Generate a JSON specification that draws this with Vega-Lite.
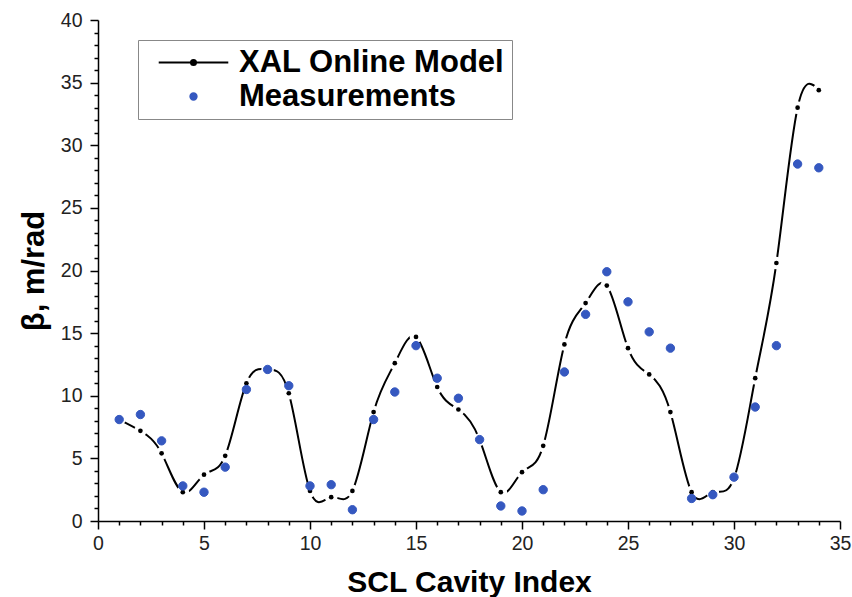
{
  "$schema": "https://vega.github.io/schema/vega-lite/v6.json",
  "width": 742,
  "height": 501,
  "autosize": {"type": "none"},
  "padding": {"left": 98, "top": 20, "right": 12, "bottom": 76},
  "background": "white",
  "config": {
    "view": {"stroke": null},
    "font": "Liberation Sans"
  },
  "data": {
    "values": [
      {"x": 1, "model": 8.1, "meas": 8.1},
      {"x": 2, "model": 7.2, "meas": 8.5},
      {"x": 3, "model": 5.4, "meas": 6.4},
      {"x": 4, "model": 2.3, "meas": 2.8},
      {"x": 5, "model": 3.7, "meas": 2.3},
      {"x": 6, "model": 5.2, "meas": 4.3},
      {"x": 7, "model": 11.0, "meas": 10.5},
      {"x": 8, "model": 12.1, "meas": 12.1},
      {"x": 9, "model": 10.2, "meas": 10.8},
      {"x": 10, "model": 2.4, "meas": 2.8},
      {"x": 11, "model": 1.9, "meas": 2.9},
      {"x": 12, "model": 2.4, "meas": 0.9},
      {"x": 13, "model": 8.7, "meas": 8.1},
      {"x": 14, "model": 12.6, "meas": 10.3},
      {"x": 15, "model": 14.7, "meas": 14.0},
      {"x": 16, "model": 10.7, "meas": 11.4},
      {"x": 17, "model": 8.9, "meas": 9.8},
      {"x": 18, "model": 6.5, "meas": 6.5},
      {"x": 19, "model": 2.3, "meas": 1.2},
      {"x": 20, "model": 3.9, "meas": 0.8},
      {"x": 21, "model": 6.0, "meas": 2.5},
      {"x": 22, "model": 14.1, "meas": 11.9},
      {"x": 23, "model": 17.4, "meas": 16.5},
      {"x": 24, "model": 18.8, "meas": 19.9},
      {"x": 25, "model": 13.8, "meas": 17.5},
      {"x": 26, "model": 11.7, "meas": 15.1},
      {"x": 27, "model": 8.7, "meas": 13.8},
      {"x": 28, "model": 2.3, "meas": 1.8},
      {"x": 29, "model": 2.3, "meas": 2.1},
      {"x": 30, "model": 3.4, "meas": 3.5},
      {"x": 31, "model": 11.4, "meas": 9.1},
      {"x": 32, "model": 20.6, "meas": 14.0},
      {"x": 33, "model": 33.0, "meas": 28.5},
      {"x": 34, "model": 34.4, "meas": 28.2}
    ]
  },
  "resolve": {"axis": {"x": "independent", "y": "independent"}},
  "layer": [
    {
      "mark": {"type": "line", "interpolate": "natural", "color": "black", "strokeWidth": 2},
      "encoding": {
        "x": {
          "field": "x", "type": "quantitative",
          "scale": {"domain": [0, 35], "nice": false, "zero": false},
          "axis": {
            "orient": "bottom",
            "values": [0, 5, 10, 15, 20, 25, 30, 35],
            "title": "SCL Cavity Index",
            "grid": false,
            "tickSize": 8, "tickWidth": 1.5, "tickColor": "black",
            "domainColor": "black", "domainWidth": 1.5,
            "labelFont": "Liberation Sans", "labelFontSize": 19.5, "labelColor": "#222",
            "labelPadding": 5, "labelFlush": false,
            "titleFont": "Liberation Sans", "titleFontSize": 30, "titleFontWeight": "bold",
            "titleColor": "black", "titlePadding": 15
          }
        },
        "y": {
          "field": "model", "type": "quantitative",
          "scale": {"domain": [0, 40], "nice": false, "zero": false},
          "axis": {
            "orient": "left",
            "values": [0, 5, 10, 15, 20, 25, 30, 35, 40],
            "title": "β, m/rad",
            "grid": false,
            "tickSize": 8, "tickWidth": 1.5, "tickColor": "black",
            "domainColor": "black", "domainWidth": 1.5,
            "labelFont": "Liberation Sans", "labelFontSize": 19.5, "labelColor": "#222",
            "labelPadding": 8, "labelFlush": false,
            "titleFont": "Liberation Sans", "titleFontSize": 31, "titleFontWeight": "bold",
            "titleColor": "black", "titlePadding": 10
          }
        }
      }
    },
    {
      "mark": {"type": "point", "filled": true, "color": "white", "size": 160, "opacity": 1},
      "encoding": {
        "x": {
          "field": "x", "type": "quantitative",
          "scale": {"domain": [0, 35], "nice": false, "zero": false},
          "axis": {
            "orient": "bottom",
            "values": [1, 2, 3, 4, 6, 7, 8, 9, 11, 12, 13, 14, 16, 17, 18, 19, 21, 22, 23, 24, 26, 27, 28, 29, 31, 32, 33, 34],
            "labels": false, "domain": false, "grid": false, "title": null,
            "tickSize": 4, "tickWidth": 1.5, "tickColor": "black"
          }
        },
        "y": {
          "field": "model", "type": "quantitative",
          "scale": {"domain": [0, 40], "nice": false, "zero": false},
          "axis": {
            "orient": "left",
            "values": [1, 2, 3, 4, 6, 7, 8, 9, 11, 12, 13, 14, 16, 17, 18, 19, 21, 22, 23, 24, 26, 27, 28, 29, 31, 32, 33, 34, 36, 37, 38, 39],
            "labels": false, "domain": false, "grid": false, "title": null,
            "tickSize": 4, "tickWidth": 1.5, "tickColor": "black"
          }
        }
      }
    },
    {
      "mark": {"type": "point", "filled": true, "color": "black", "size": 22, "opacity": 1},
      "encoding": {
        "x": {"field": "x", "type": "quantitative", "scale": {"domain": [0, 35], "nice": false, "zero": false}, "axis": null},
        "y": {"field": "model", "type": "quantitative", "scale": {"domain": [0, 40], "nice": false, "zero": false}, "axis": null}
      }
    },
    {
      "mark": {"type": "point", "filled": true, "size": 70, "strokeWidth": 1, "opacity": 1},
      "encoding": {
        "x": {"field": "x", "type": "quantitative", "scale": {"domain": [0, 35], "nice": false, "zero": false}, "axis": null},
        "y": {"field": "meas", "type": "quantitative", "scale": {"domain": [0, 40], "nice": false, "zero": false}, "axis": null},
        "shape": {
          "datum": "Measurements",
          "scale": {"domain": ["XAL Online Model", "Measurements"], "range": ["M-11,0H11M0.8,0A0.8,0.8,0,1,1,-0.8,0A0.8,0.8,0,1,1,0.8,0", "circle"]}
        },
        "stroke": {
          "datum": "Measurements",
          "scale": {"domain": ["XAL Online Model", "Measurements"], "range": ["black", "#3558c0"]}
        },
        "color": {
          "datum": "Measurements",
          "scale": {"domain": ["XAL Online Model", "Measurements"], "range": ["black", "#3558c0"]},
          "legend": {
            "orient": "none",
            "legendX": 40,
            "legendY": 20,
            "title": null,
            "padding": 7,
            "rowPadding": 2,
            "strokeColor": "#888",
            "symbolSize": 40,
            "symbolStrokeWidth": 2,
            "symbolOpacity": 1,
            "symbolOffset": 33,
            "labelOffset": 30,
            "labelFont": "Liberation Sans",
            "labelFontSize": 31,
            "labelFontWeight": "bold",
            "labelColor": "black",
            "labelLimit": 400
          }
        }
      }
    }
  ]
}
